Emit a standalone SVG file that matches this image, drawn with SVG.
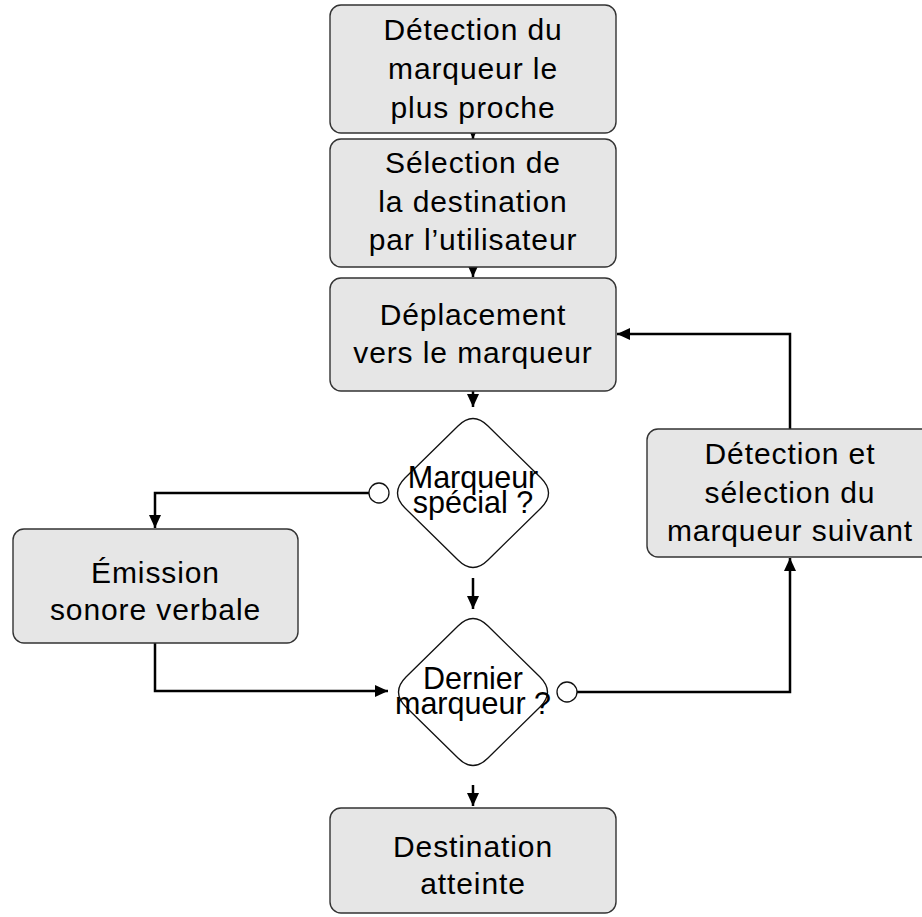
<svg xmlns="http://www.w3.org/2000/svg" width="922" height="917" viewBox="0 0 922 917">
<defs>
<marker id="arr" markerUnits="userSpaceOnUse" markerWidth="14" markerHeight="12" viewBox="0 0 14 12" refX="13" refY="6" orient="auto">
<path d="M0,0 L13,6 L0,12 Z" fill="#000"/>
</marker>
</defs>
<style>
.box{fill:#e6e6e6;stroke:#333;stroke-width:1.4}
.dia{fill:#fff;stroke:#111;stroke-width:1.3}
.circ{fill:#fff;stroke:#111;stroke-width:1.3}
.t{font-family:"Liberation Sans",Arial,sans-serif;font-size:30px;letter-spacing:0.9px;fill:#000;text-anchor:middle}
.td{font-family:"Liberation Sans",Arial,sans-serif;font-size:30.5px;fill:#000;text-anchor:middle}
.c{fill:none;stroke:#000;stroke-width:2.5;marker-end:url(#arr)}
</style>
<rect width="922" height="917" fill="#fff"/>
<g id="connectors">
<path class="c" d="M473,133 V139"/>
<path class="c" d="M473,267 V277"/>
<path class="c" d="M473,391 V407"/>
<path class="c" d="M473,578 V609"/>
<path class="c" d="M473,785 V806"/>
<path class="c" d="M369,493 H155 V528"/>
<path class="c" d="M155,643 V691 H388"/>
<path class="c" d="M577,692 H790 V558"/>
<path class="c" d="M790,429 V334 H617"/>
</g>
<g id="n1">
<rect class="box" x="330" y="5" width="286" height="128" rx="11"/>
<text class="t" x="473" y="40">Détection du</text>
<text class="t" x="473" y="79">marqueur le</text>
<text class="t" x="473" y="118">plus proche</text>
</g>
<g id="n2">
<rect class="box" x="330" y="139" width="286" height="128" rx="11"/>
<text class="t" x="473" y="173">Sélection de</text>
<text class="t" x="473" y="212">la destination</text>
<text class="t" x="473" y="250">par l’utilisateur</text>
</g>
<g id="n3">
<rect class="box" x="330" y="278" width="286" height="113" rx="11"/>
<text class="t" x="473" y="325">Déplacement</text>
<text class="t" x="473" y="363">vers le marqueur</text>
</g>
<g id="d1">
<path class="dia" d="M458,426 Q473,411 488,426 L541,478 Q556,493 541,508 L488,560 Q473,575 458,560 L405,508 Q390,493 405,478 Z"/>
<text class="td" x="473" y="488">Marqueur</text>
<text class="td" x="473" y="513">spécial ?</text>
<circle class="circ" cx="379" cy="493" r="10"/>
</g>
<g id="n4">
<rect class="box" x="13" y="529" width="285" height="114" rx="11"/>
<text class="t" x="155.5" y="583">Émission</text>
<text class="t" x="155.5" y="620">sonore verbale</text>
</g>
<g id="d2">
<path class="dia" d="M458,626 Q473,611 488,626 L540,677 Q555,692 540,707 L488,758 Q473,773 458,758 L406,707 Q391,692 406,677 Z"/>
<text class="td" x="473" y="689">Dernier</text>
<text class="td" x="473" y="714">marqueur ?</text>
<circle class="circ" cx="567" cy="692" r="10"/>
</g>
<g id="n5">
<rect class="box" x="647" y="429" width="286" height="128" rx="11"/>
<text class="t" x="790" y="464">Détection et</text>
<text class="t" x="790" y="503">sélection du</text>
<text class="t" x="790" y="541">marqueur suivant</text>
</g>
<g id="n6">
<rect class="box" x="330" y="808" width="286" height="105" rx="11"/>
<text class="t" x="473" y="857">Destination</text>
<text class="t" x="473" y="894">atteinte</text>
</g>
</svg>
